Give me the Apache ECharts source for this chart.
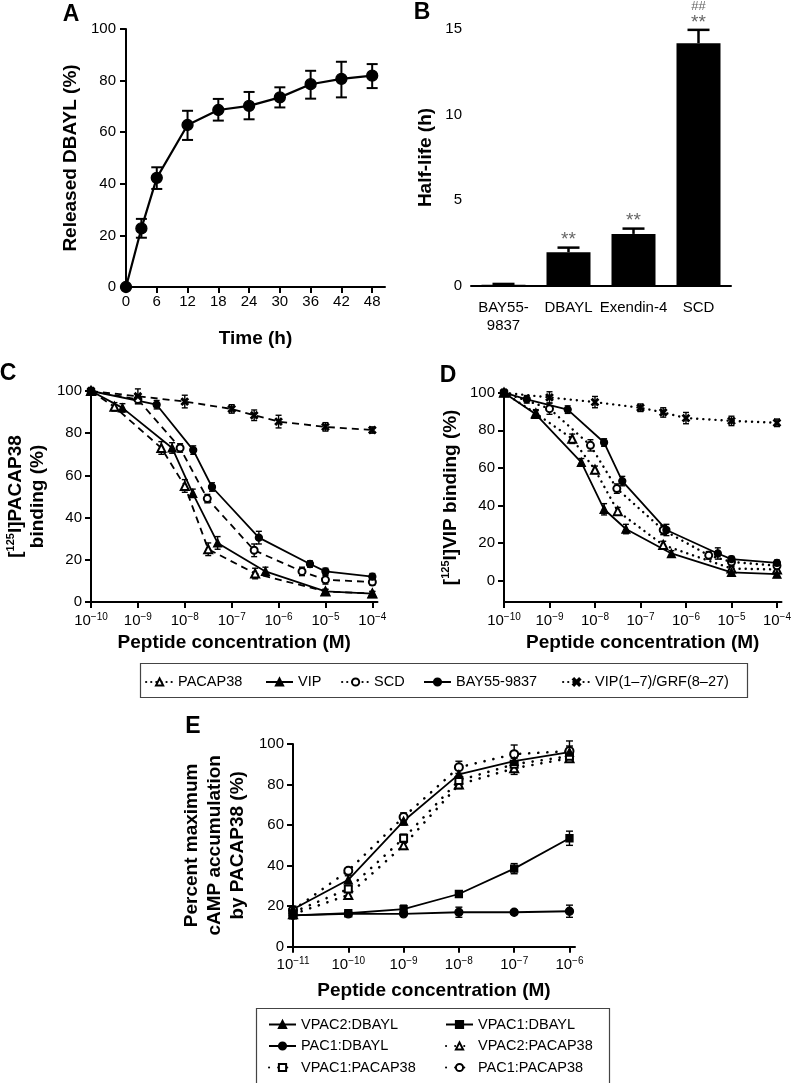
<!DOCTYPE html>
<html><head><meta charset="utf-8">
<script src="https://cdn.jsdelivr.net/npm/echarts@6/dist/echarts.min.js"></script>
<style>html,body{margin:0;padding:0;background:#fff}#c{width:794px;height:1083px}</style>
</head><body><div id="c"></div>
<script>
// ---------- Panel A ----------
const aTime = [0, 3, 6, 12, 18, 24, 30, 36, 42, 48];
const aRelease = [0, 22.7, 42.3, 62.8, 68.6, 70.2, 73.5, 78.6, 80.7, 81.9];
const aErrLow = [0, 19.1, 38.0, 57.0, 64.5, 65.0, 69.6, 73.0, 73.5, 77.1];
const aErrHigh = [0, 26.4, 46.4, 68.3, 72.9, 75.6, 77.4, 83.8, 87.3, 86.4];
const aXTicks = [0, 6, 12, 18, 24, 30, 36, 42, 48];
// ---------- Panel B ----------
const bCategories = ['BAY55-\n9837', 'DBAYL', 'Exendin-4', 'SCD'];
const bHalfLife = [0.07, 1.97, 3.04, 14.17];
const bErrHigh = [0.12, 2.24, 3.35, 14.95];
const bSig1 = ['', '**', '**', '**'];
const bSig2 = ['', '', '', '##'];
// ---------- Panel C (x = log10 concentration) ----------
const cPacapX = [-10, -9.5, -8.5, -8.0, -7.5, -6.5, -5, -4];
const cPacapY = [100, 92.5, 73, 55, 25, 13.5, 5, 4];
const cPacapE = [1, 2, 3, 3, 3, 2.5, 1, 1];
const cVipX = [-10, -9.33, -8.27, -7.83, -7.3, -6.28, -5, -4];
const cVipY = [100, 92, 73, 51.5, 28, 14.5, 5, 4];
const cVipE = [1, 2, 2.5, 2, 3, 2, 1, 1];
const cScdX = [-10, -9, -8.1, -7.52, -6.52, -5.5, -5, -4];
const cScdY = [100, 96, 73, 49, 24.5, 14.5, 10.5, 9.5];
const cScdE = [1, 2, 2, 2, 3, 2, 2, 1.5];
const cBayX = [-10, -8.6, -7.82, -7.42, -6.42, -5.33, -5, -4];
const cBayY = [100, 93.5, 72, 54.5, 30.5, 18, 14.5, 12];
const cBayE = [1, 2, 2, 2, 3, 1.5, 1.5, 1.5];
const cGrfX = [-10, -9, -8, -7, -6.52, -6, -5, -4];
const cGrfY = [100, 97.5, 95, 91.5, 88.5, 85.5, 83, 81.5];
const cGrfE = [1, 3.5, 3, 2, 2.5, 3, 2, 1.5];
// ---------- Panel D ----------
const dPacapX = [-10, -9.3, -8.5, -8.0, -7.5, -6.5, -5, -4];
const dPacapY = [100, 89, 75.5, 59, 37, 19, 6.5, 6];
const dPacapE = [1, 2, 2.5, 2, 2, 2, 1, 1];
const dVipX = [-10, -9.3, -8.3, -7.8, -7.32, -6.32, -5, -4];
const dVipY = [100, 88.5, 63, 38, 27.5, 14.5, 4.5, 3.5];
const dVipE = [1, 2, 2, 3, 2.5, 1.5, 1, 1];
const dScdX = [-10, -9, -8.1, -7.52, -6.5, -5.5, -5, -4];
const dScdY = [100, 91.5, 72, 49, 27, 13.5, 10, 8];
const dScdE = [1, 3, 3, 2.5, 2.5, 2, 2, 1.5];
const dBayX = [-10, -9.5, -8.6, -7.8, -7.4, -6.43, -5.3, -5, -4];
const dBayY = [100, 96.5, 91, 73.5, 53, 27, 14.5, 11.5, 9.5];
const dBayE = [1, 2, 2, 2, 2.5, 3, 3, 1.5, 1.5];
const dGrfX = [-10, -9, -8, -7, -6.5, -6, -5, -4];
const dGrfY = [100, 97.5, 95, 92, 89.5, 86.5, 85, 84];
const dGrfE = [1, 3, 3, 2, 2.5, 3, 2.5, 2];
const cdXTicks = [-10, -9, -8, -7, -6, -5, -4];
// ---------- Panel E ----------
const eX = [-11, -10, -9, -8, -7, -6];
const eXTicks = [-11, -10, -9, -8, -7, -6];
const eVpac2Dbayl = [18.5, 33, 62, 85, 91.5, 96];
const eVpac2DbaylE = [1.5, 2, 2, 3, 4, 3];
const eVpac1Dbayl = [15.5, 16.5, 18.5, 26, 38.5, 53.5];
const eVpac1DbaylE = [1, 1, 2, 1.5, 2.5, 3.5];
const ePac1Dbayl = [15.5, 16.2, 16.2, 17, 17, 17.5];
const ePac1DbaylE = [1, 1, 1, 2.5, 1, 3];
const eVpac2Pacap = [16, 25.5, 50, 80, 88, 93];
const eVpac2PacapE = [1, 1.5, 2, 2, 3, 1.5];
const eVpac1Pacap = [17, 28.5, 53.5, 82, 90, 94];
const eVpac1PacapE = [1, 1.5, 2, 2.5, 3, 2];
const ePac1Pacap = [18, 37.5, 64, 88.5, 95, 96.5];
const ePac1PacapE = [1, 1.5, 2, 3, 4.5, 5];

const FONT = '"Liberation Sans", Arial, Helvetica, sans-serif';
const XSYM = 'path://M0,1.6L1.6,0L5,3.4L8.4,0L10,1.6L6.6,5L10,8.4L8.4,10L5,6.6L1.6,10L0,8.4L3.4,5Z';

const chart = echarts.init(document.getElementById('c'), null, {renderer: 'canvas'});

function axisBase(extra) {
  return Object.assign({
    axisLine: {onZero: false, lineStyle: {color: '#000', width: 2}},
    axisTick: {length: 6, lineStyle: {color: '#000', width: 2}},
    axisLabel: {color: '#000', fontSize: 15, fontFamily: FONT},
    splitLine: {show: false},
    nameTextStyle: {color: '#000', fontSize: 19, fontWeight: 'bold', fontFamily: FONT}
  }, extra);
}
const powRich = {
  b: {fontSize: 15, color: '#000', fontFamily: FONT, lineHeight: 17},
  s: {fontSize: 10, color: '#000', fontFamily: FONT, verticalAlign: 'top', lineHeight: 10}
};
function powLabel(v) { return '{b|10}{s|\u2212' + Math.abs(Math.round(v)) + '}'; }

function lineSeries(name, gi, xs, ys, sym, size, ls) {
  return {
    type: 'line', name: name, xAxisIndex: gi, yAxisIndex: gi,
    data: xs.map((x, i) => [x, ys[i]]),
    symbol: sym, symbolSize: size, showSymbol: true,
    lineStyle: Object.assign({color: '#000', width: 1.8}, ls || {}),
    itemStyle: {color: '#000', borderColor: '#000', borderWidth: 1.3},
    emphasis: {disabled: true}, z: 3, animation: false, silent: true
  };
}
function errSeries(gi, xs, lo, hi, cap, lw) {
  return {
    type: 'custom', xAxisIndex: gi, yAxisIndex: gi, silent: true, animation: false, z: 2,
    data: xs.map((x, i) => [x, lo[i], hi[i]]),
    encode: {x: 0, y: [1, 2]},
    renderItem: function (params, api) {
      const x = api.value(0);
      const p1 = api.coord([x, api.value(1)]);
      const p2 = api.coord([x, api.value(2)]);
      const st = {stroke: '#000', lineWidth: lw || 1.5};
      return {type: 'group', children: [
        {type: 'line', shape: {x1: p1[0], y1: p1[1], x2: p2[0], y2: p2[1]}, style: st},
        {type: 'line', shape: {x1: p1[0] - cap / 2, y1: p1[1], x2: p1[0] + cap / 2, y2: p1[1]}, style: st},
        {type: 'line', shape: {x1: p2[0] - cap / 2, y1: p2[1], x2: p2[0] + cap / 2, y2: p2[1]}, style: st}
      ]};
    }
  };
}
function symErr(gi, xs, ys, es, cap) {
  return errSeries(gi, xs, ys.map((y, i) => y - es[i]), ys.map((y, i) => y + es[i]), cap, 1.4);
}

const dashC = {type: [7, 5], width: 1.8};
const dotD = {type: [0.1, 6], width: 2.4, cap: 'round'};
const dotE = {type: [0.1, 9], width: 2.6, cap: 'round'};

const series = [];
// A
series.push(errSeries(0, aTime, aErrLow, aErrHigh, 11, 2));
series.push(lineSeries('A', 0, aTime, aRelease, 'circle', 11, {width: 2.2}));
// B
series.push({
  type: 'bar', xAxisIndex: 1, yAxisIndex: 1, data: bHalfLife, barWidth: 44,
  itemStyle: {color: '#000'}, silent: true, animation: false, z: 2
});
series.push({
  type: 'custom', xAxisIndex: 1, yAxisIndex: 1, silent: true, animation: false, z: 3,
  data: bHalfLife.map((v, i) => [i, v, bErrHigh[i]]),
  encode: {x: 0, y: [1, 2]},
  renderItem: function (params, api) {
    const i = params.dataIndex;
    const p1 = api.coord([api.value(0), api.value(1)]);
    const p2 = api.coord([api.value(0), api.value(2)]);
    const st = {stroke: '#000', lineWidth: 2.5};
    const ch = [
      {type: 'line', shape: {x1: p1[0], y1: p1[1], x2: p2[0], y2: p2[1]}, style: st},
      {type: 'line', shape: {x1: p2[0] - 11, y1: p2[1], x2: p2[0] + 11, y2: p2[1]}, style: st}
    ];
    if (bSig1[i]) ch.push({type: 'text', x: p2[0], y: p2[1] + 2, style: {text: bSig1[i], align: 'center', verticalAlign: 'bottom', fontSize: 19, fill: '#666', fontFamily: FONT}});
    if (bSig2[i]) ch.push({type: 'text', x: p2[0], y: p2[1] - 17, style: {text: bSig2[i], align: 'center', verticalAlign: 'bottom', fontSize: 13, fill: '#666', fontFamily: FONT}});
    return {type: 'group', children: ch};
  }
});
// C
series.push(symErr(2, cPacapX, cPacapY, cPacapE, 6));
series.push(symErr(2, cVipX, cVipY, cVipE, 6));
series.push(symErr(2, cScdX, cScdY, cScdE, 6));
series.push(symErr(2, cBayX, cBayY, cBayE, 6));
series.push(symErr(2, cGrfX, cGrfY, cGrfE, 6));
series.push(lineSeries('PACAP38', 2, cPacapX, cPacapY, 'emptyTriangle', 8, dashC));
series.push(lineSeries('VIP', 2, cVipX, cVipY, 'triangle', 8));
series.push(lineSeries('SCD', 2, cScdX, cScdY, 'emptyCircle', 7, dashC));
series.push(lineSeries('BAY55-9837', 2, cBayX, cBayY, 'circle', 7));
series.push(lineSeries('VIP(1\u20137)/GRF(8\u201327)', 2, cGrfX, cGrfY, XSYM, 7, dashC));
// D
series.push(symErr(3, dPacapX, dPacapY, dPacapE, 6));
series.push(symErr(3, dVipX, dVipY, dVipE, 6));
series.push(symErr(3, dScdX, dScdY, dScdE, 6));
series.push(symErr(3, dBayX, dBayY, dBayE, 6));
series.push(symErr(3, dGrfX, dGrfY, dGrfE, 6));
series.push(lineSeries('PACAP38', 3, dPacapX, dPacapY, 'emptyTriangle', 8, dotD));
series.push(lineSeries('VIP', 3, dVipX, dVipY, 'triangle', 8));
series.push(lineSeries('SCD', 3, dScdX, dScdY, 'emptyCircle', 7, dotD));
series.push(lineSeries('BAY55-9837', 3, dBayX, dBayY, 'circle', 7));
series.push(lineSeries('VIP(1\u20137)/GRF(8\u201327)', 3, dGrfX, dGrfY, XSYM, 7, dotD));
// E
series.push(symErr(4, eX, eVpac2Dbayl, eVpac2DbaylE, 7));
series.push(symErr(4, eX, eVpac1Dbayl, eVpac1DbaylE, 7));
series.push(symErr(4, eX, ePac1Dbayl, ePac1DbaylE, 7));
series.push(symErr(4, eX, eVpac2Pacap, eVpac2PacapE, 7));
series.push(symErr(4, eX, eVpac1Pacap, eVpac1PacapE, 7));
series.push(symErr(4, eX, ePac1Pacap, ePac1PacapE, 7));
series.push(lineSeries('VPAC2:PACAP38', 4, eX, eVpac2Pacap, 'emptyTriangle', 8, dotE));
series.push(lineSeries('VPAC1:PACAP38', 4, eX, eVpac1Pacap, 'emptyRect', 7, dotE));
series.push(lineSeries('PAC1:PACAP38', 4, eX, ePac1Pacap, 'emptyCircle', 8, dotE));
series.push(lineSeries('VPAC2:DBAYL', 4, eX, eVpac2Dbayl, 'triangle', 8));
series.push(lineSeries('VPAC1:DBAYL', 4, eX, eVpac1Dbayl, 'rect', 7));
series.push(lineSeries('PAC1:DBAYL', 4, eX, ePac1Dbayl, 'circle', 8));

function legendAt(left, top, names, extra) {
  return Object.assign({
    left: left, top: top, padding: 0, orient: 'vertical', selectedMode: false,
    itemWidth: 27, itemHeight: 9, itemGap: 4.5,
    textStyle: {color: '#000', fontSize: 14.5, fontFamily: FONT, lineHeight: 17},
    data: names
  }, extra || {});
}
const dotLegend = {type: [0.1, 5], width: 2.2, cap: 'round'};
const legends = [
  legendAt(145, 673.5, [{name: 'PACAP38', lineStyle: dotLegend}]),
  legendAt(265, 673.5, ['VIP']),
  legendAt(341, 673.5, [{name: 'SCD', lineStyle: dotLegend}]),
  legendAt(423, 673.5, ['BAY55-9837']),
  legendAt(562, 673.5, [{name: 'VIP(1\u20137)/GRF(8\u201327)', lineStyle: dotLegend}]),
  legendAt(268, 1016, ['VPAC2:DBAYL', 'PAC1:DBAYL', 'VPAC1:PACAP38']),
  legendAt(445, 1016, ['VPAC1:DBAYL', 'VPAC2:PACAP38', 'PAC1:PACAP38'])
];

const panelLetter = (t, x, y) => ({type: 'text', x: x, y: y, style: {text: t, fontSize: 23, fontWeight: 'bold', fill: '#000', fontFamily: FONT, align: 'center', verticalAlign: 'middle'}});

const option = {
  backgroundColor: '#fff',
  animation: false,
  grid: [
    {left: 126, top: 29, width: 259, height: 258},
    {left: 471, top: 29, width: 260, height: 257},
    {left: 91, top: 391, width: 286.5, height: 211},
    {left: 504, top: 392.7, width: 282.7, height: 209.3},
    {left: 293, top: 744, width: 282, height: 202.7}
  ],
  xAxis: [
    axisBase({gridIndex: 0, type: 'value', min: 0, max: 50.5,
      axisTick: {length: 6, lineStyle: {color: '#000', width: 2}, customValues: aXTicks},
      axisLabel: {color: '#000', fontSize: 15, fontFamily: FONT, margin: 7, customValues: aXTicks},
      name: 'Time (h)', nameLocation: 'middle', nameGap: 42}),
    axisBase({gridIndex: 1, type: 'category', data: bCategories,
      axisTick: {length: 6, alignWithLabel: true, lineStyle: {color: '#000', width: 2}},
      axisLabel: {color: '#000', fontSize: 15, fontFamily: FONT, margin: 13, interval: 0, lineHeight: 18}}),
    axisBase({gridIndex: 2, type: 'value', min: -10, max: -3.89,
      axisTick: {length: 6, lineStyle: {color: '#000', width: 2}, customValues: cdXTicks},
      axisLabel: {margin: 10, customValues: cdXTicks, formatter: powLabel, rich: powRich},
      name: 'Peptide concentration (M)', nameLocation: 'middle', nameGap: 31}),
    axisBase({gridIndex: 3, type: 'value', min: -10, max: -3.9,
      axisTick: {length: 6, lineStyle: {color: '#000', width: 2}, customValues: cdXTicks},
      axisLabel: {margin: 10, customValues: cdXTicks, formatter: powLabel, rich: powRich},
      name: 'Peptide concentration (M)', nameLocation: 'middle', nameGap: 31}),
    axisBase({gridIndex: 4, type: 'value', min: -11, max: -5.9,
      axisTick: {length: 6, lineStyle: {color: '#000', width: 2}, customValues: eXTicks},
      axisLabel: {margin: 10, customValues: eXTicks, formatter: powLabel, rich: powRich},
      name: 'Peptide concentration (M)', nameLocation: 'middle', nameGap: 35})
  ],
  yAxis: [
    axisBase({gridIndex: 0, type: 'value', min: 0, max: 100, interval: 20,
      axisLabel: {color: '#000', fontSize: 15, fontFamily: FONT, margin: 10},
      name: 'Released DBAYL (%)', nameLocation: 'middle', nameGap: 46}),
    axisBase({gridIndex: 1, type: 'value', min: 0, max: 15, interval: 5,
      axisLabel: {color: '#000', fontSize: 15, fontFamily: FONT, margin: 9},
      name: 'Half-life (h)', nameLocation: 'middle', nameGap: 36}),
    axisBase({gridIndex: 2, type: 'value', min: 0, max: 100, interval: 20,
      axisLabel: {color: '#000', fontSize: 15, fontFamily: FONT, margin: 9},
      name: '{t|[}{s|125}{t|I]PACAP38}\n{t|binding (%)}', nameLocation: 'middle', nameGap: 42,
      nameTextStyle: {color: '#000', fontSize: 19, fontWeight: 'bold', fontFamily: FONT, lineHeight: 22,
        rich: {t: {fontSize: 19, fontWeight: 'bold', fontFamily: FONT, color: '#000', lineHeight: 22},
               s: {fontSize: 11, fontWeight: 'bold', fontFamily: FONT, color: '#000', verticalAlign: 'top', lineHeight: 12}}}}),
    axisBase({gridIndex: 3, type: 'value', min: -11.3, max: 100,
      axisTick: {length: 6, lineStyle: {color: '#000', width: 2}, customValues: [0, 20, 40, 60, 80, 100]},
      axisLabel: {color: '#000', fontSize: 15, fontFamily: FONT, margin: 9, customValues: [0, 20, 40, 60, 80, 100]},
      name: '{t|[}{s|125}{t|I]VIP binding (%)}', nameLocation: 'middle', nameGap: 42,
      nameTextStyle: {color: '#000', fontSize: 19, fontWeight: 'bold', fontFamily: FONT,
        rich: {t: {fontSize: 19, fontWeight: 'bold', fontFamily: FONT, color: '#000', lineHeight: 22},
               s: {fontSize: 11, fontWeight: 'bold', fontFamily: FONT, color: '#000', verticalAlign: 'top', lineHeight: 12}}}}),
    axisBase({gridIndex: 4, type: 'value', min: 0, max: 100, interval: 20,
      axisLabel: {color: '#000', fontSize: 15, fontFamily: FONT, margin: 9},
      name: 'Percent maximum\ncAMP accumulation\nby PACAP38 (%)', nameLocation: 'middle', nameGap: 44,
      nameTextStyle: {color: '#000', fontSize: 19, fontWeight: 'bold', fontFamily: FONT, lineHeight: 23}})
  ],
  legend: legends,
  series: series,
  graphic: [
    panelLetter('A', 71, 15),
    panelLetter('B', 422, 13),
    panelLetter('C', 8, 374),
    panelLetter('D', 448, 376),
    panelLetter('E', 193, 727),
    {type: 'rect', shape: {x: 140.5, y: 663.5, width: 607, height: 34}, style: {fill: 'none', stroke: '#444', lineWidth: 1.2}, z: -1},
    {type: 'rect', shape: {x: 256.5, y: 1008.5, width: 353, height: 90}, style: {fill: 'none', stroke: '#444', lineWidth: 1.2}, z: -1}
  ]
};
chart.setOption(option);
</script>
</body></html>
